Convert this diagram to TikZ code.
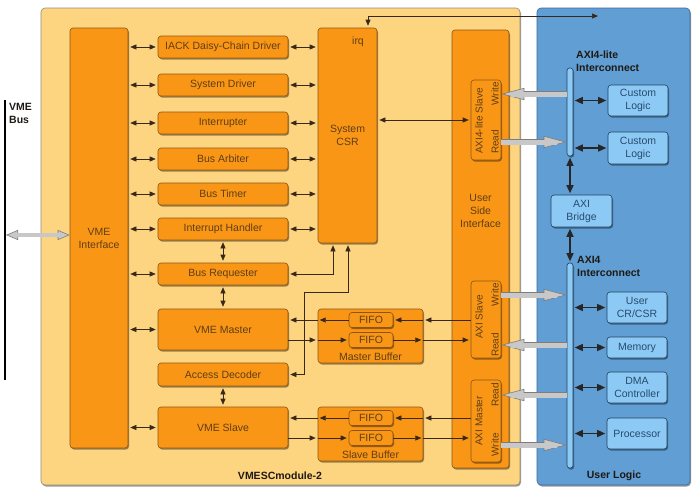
\documentclass[tikz,border=0pt]{standalone}
\usepackage{fontspec}
\setmainfont{Liberation Sans}
\usetikzlibrary{arrows.meta,shadows,calc}
\definecolor{obg}{RGB}{253,212,128}
\definecolor{oborder}{RGB}{150,140,120}
\definecolor{oboxf}{RGB}{249,150,22}
\definecolor{oboxd}{RGB}{140,85,20}
\definecolor{otext}{RGB}{95,62,20}
\definecolor{bbg}{RGB}{96,158,212}
\definecolor{bborder}{RGB}{60,105,150}
\definecolor{bboxf}{RGB}{140,202,245}
\definecolor{bboxd}{RGB}{35,65,95}
\definecolor{btext}{RGB}{40,75,110}
\definecolor{lnc}{RGB}{55,40,25}
\definecolor{garr}{RGB}{200,200,200}
\definecolor{garrd}{RGB}{125,125,125}
\definecolor{lblc}{RGB}{30,25,20}
\begin{document}
\begin{tikzpicture}[x=1pt,y=-1pt,
  font=\fontsize{10.5}{13}\selectfont,
  shad/.style={drop shadow={shadow xshift=1pt,shadow yshift=-1.5pt,opacity=0.4,fill=black}},
  ctr/.style={draw=#1, line width=0.6pt, rounded corners=4pt, inner sep=0pt, shad},
  ob/.style={draw=oboxd, fill=oboxf, line width=0.6pt, rounded corners=3pt, inner sep=0pt, text=otext, align=center, shad},
  bb/.style={draw=bboxd, fill=bboxf, line width=0.6pt, rounded corners=3pt, inner sep=0pt, text=btext, align=center, shad},
  txt/.style={inner sep=0pt, align=center, text=otext},
  rtxt/.style={inner sep=0pt, text=otext, rotate=90, font=\fontsize{10}{12}\selectfont},
  lbl/.style={inner sep=0pt, font=\fontsize{10.5}{13}\selectfont\bfseries, text=lblc},
  sa/.style={draw=lnc, line width=0.6pt, {Triangle[length=6pt,width=5pt]}-{Triangle[length=6pt,width=5pt]}, shorten <=2pt, shorten >=2pt},
  ra/.style={draw=lnc, line width=0.6pt, -{Triangle[length=6pt,width=5pt]}, shorten >=2pt},
  ba/.style={draw=black!85, line width=1.3pt, {Triangle[length=8pt,width=7pt]}-{Triangle[length=8pt,width=7pt]}, shorten <=1.5pt, shorten >=1.5pt},
  bigarr/.style={line width=5pt, draw=garr, -{Triangle[length=23pt,width=12pt,fill=garr,color=garrd,line width=0.6pt]},
     preaction={draw=garrd, line width=6.4pt, -, shorten >=21pt},
     postaction={draw=garr, line width=5pt, -, shorten >=10pt}},
  bigdbl/.style={line width=3.5pt, draw=garr, {Triangle[length=12pt,width=10pt,fill=garr,color=garrd,line width=0.6pt]}-{Triangle[length=12pt,width=10pt,fill=garr,color=garrd,line width=0.6pt]},
     preaction={draw=garrd, line width=4.8pt, -, shorten >=11pt, shorten <=11pt},
     postaction={draw=garr, line width=3.5pt, -, shorten >=6pt, shorten <=6pt}}
]
\useasboundingbox (0,0) rectangle (700,499);
% containers
\node[ctr=oborder, fill=obg, minimum width=479, minimum height=477] (vmesc) at (280.5,246.5) {};
\node[ctr=bborder, fill=bbg, minimum width=153, minimum height=477] (ulogic) at (613.5,246.5) {};
\node[lbl] (vmesclbl) at (280,476) {VMESCmodule-2};
\node[lbl] (ullbl) at (614,476) {User Logic};
\node[lbl, anchor=north west, align=left] (vmebuslbl) at (9,103) {VME\\Bus};
% VME bus
\coordinate (bustop) at (5,100);
\coordinate (busbot) at (5,380);
\draw[line width=1.6pt] (bustop) -- (busbot);
\coordinate (bus) at (6,235);
% left column
\node[ob, minimum width=58, minimum height=420] (vmeif) at (99,238) {VME\\Interface};
\foreach \n/\t/\y in {iack/IACK Daisy-Chain Driver/47, sysdrv/System Driver/85, intr/Interrupter/123, arb/Bus Arbiter/159, tmr/Bus Timer/194, inth/Interrupt Handler/229}{
  \node[ob, minimum width=130, minimum height=22] (\n) at (223,\y) {\t};
}
\node[ob, minimum width=130, minimum height=22] (busreq) at (223,274) {Bus Requester};
\node[ob, minimum width=130, minimum height=41] (vmem) at (223,329.5) {VME Master};
\node[ob, minimum width=130, minimum height=23] (accdec) at (223,374.5) {Access Decoder};
\node[ob, minimum width=130, minimum height=41] (vmes) at (223,427.5) {VME Slave};
\node[ob, minimum width=59, minimum height=215] (csr) at (347.5,135.5) {System\\CSR};
\node[txt] (irq) at (358,42) {irq};
% buffers
\node[ob, minimum width=105, minimum height=54] (mb) at (370.5,336) {};
\node[txt] (mblbl) at (370.5,356.5) {Master Buffer};
\node[ob, minimum width=44, minimum height=15] (mf1) at (371,320) {FIFO};
\node[ob, minimum width=44, minimum height=15] (mf2) at (371,340) {FIFO};
\node[ob, minimum width=105, minimum height=54] (sb) at (370.5,434) {};
\node[txt] (sblbl) at (370.5,454.5) {Slave Buffer};
\node[ob, minimum width=44, minimum height=15] (sf1) at (371,418) {FIFO};
\node[ob, minimum width=44, minimum height=15] (sf2) at (371,438) {FIFO};
% user side interface
\node[ob, minimum width=57, minimum height=438] (usi) at (480.5,249) {};
\node[txt] (usilbl) at (480.5,211) {User\\Side\\Interface};
\node[ob, minimum width=30, minimum height=80] (als) at (486,120) {};
\node[rtxt] (alst) at (479,121) {AXI4-lite Slave};
\node[rtxt] (alsw) at (495,94) {Write};
\node[rtxt] (alsr) at (495,142) {Read};
\node[ob, minimum width=30, minimum height=77] (axs) at (486,319.5) {};
\node[rtxt] (axst) at (479,317) {AXI Slave};
\node[rtxt] (axsw) at (495,295) {Write};
\node[rtxt] (axsr) at (495,345) {Read};
\node[ob, minimum width=30, minimum height=82] (axm) at (486,421) {};
\node[rtxt] (axmt) at (479,421) {AXI Master};
\node[rtxt] (axmr) at (495,395) {Read};
\node[rtxt] (axmw) at (495,445) {Write};
% blue side
\node[bb, minimum width=6, minimum height=88, rounded corners=2.5pt] (lbar) at (570,112) {};
\node[lbl, anchor=north west, align=left] (lbarlbl) at (576,51) {AXI4-lite\\Interconnect};
\node[bb, minimum width=60, minimum height=31] (cl1) at (638,100.5) {Custom\\Logic};
\node[bb, minimum width=60, minimum height=32] (cl2) at (638,148) {Custom\\Logic};
\node[bb, minimum width=61, minimum height=32] (bridge) at (581.5,211) {AXI\\Bridge};
\node[bb, minimum width=6, minimum height=205, rounded corners=2.5pt] (bar4) at (570,365.5) {};
\node[lbl, anchor=north west, align=left] (bar4lbl) at (577,256) {AXI4\\Interconnect};
\node[bb, minimum width=60, minimum height=31] (ucsr) at (637,307.5) {User\\CR/CSR};
\node[bb, minimum width=60, minimum height=21] (mem) at (637,347.5) {Memory};
\node[bb, minimum width=60, minimum height=31] (dma) at (637,387.5) {DMA\\Controller};
\node[bb, minimum width=60, minimum height=31] (proc) at (637,433.5) {Processor};
% connectors: left
\draw[bigdbl] (bus) -- (vmeif.west |- bus);
\foreach \n in {iack,sysdrv,intr,arb,tmr,inth}{
  \draw[sa] (vmeif.east |- \n) -- (\n.west);
  \draw[sa] (\n.east) -- (csr.west |- \n);
}
\draw[sa] (vmeif.east |- busreq) -- (busreq.west);
\draw[sa] (vmeif.east |- vmem) -- (vmem.west);
\draw[sa] (vmeif.east |- vmes) -- (vmes.west);
\draw[sa] (inth.south) -- (busreq.north);
\draw[sa] (busreq.south) -- (vmem.north);
\draw[sa] (accdec.south) -- (vmes.north);
\draw[sa] (busreq.east) -| ($(csr.south)+(-14.5,0)$);
\draw[sa] (accdec.east) -| (304,292) -| ($(csr.south)+(0.5,0)$);
\coordinate (irqend) at (600,16);
\draw[sa] ($(csr.north)+(20.5,0)$) |- (irqend);
\draw[sa] (csr.east |- als) -- (als.west);
% master buffer rows
\draw[ra] (axs.west |- mf1) -- (mb.east |- mf1);
\draw[ra] (mb.east |- mf1) -- (mf1.east);
\draw[ra] (mf1.west) -- (mb.west |- mf1);
\draw[ra] (mb.west |- mf1) -- (vmem.east |- mf1);
\draw[ra] (vmem.east |- mf2) -- (mb.west |- mf2);
\draw[ra] (mb.west |- mf2) -- (mf2.west);
\draw[ra] (mf2.east) -- (mb.east |- mf2);
\draw[ra] (mb.east |- mf2) -- (axs.west |- mf2);
% slave buffer rows
\draw[ra] (axm.west |- sf1) -- (sb.east |- sf1);
\draw[ra] (sb.east |- sf1) -- (sf1.east);
\draw[ra] (sf1.west) -- (sb.west |- sf1);
\draw[ra] (sb.west |- sf1) -- (vmes.east |- sf1);
\draw[ra] (vmes.east |- sf2) -- (sb.west |- sf2);
\draw[ra] (sb.west |- sf2) -- (sf2.west);
\draw[ra] (sf2.east) -- (sb.east |- sf2);
\draw[ra] (sb.east |- sf2) -- (axm.west |- sf2);
% gray bus arrows
\draw[bigarr] (lbar.west |- alsw) -- (als.east |- alsw);
\draw[bigarr] (als.east |- alsr) -- (lbar.west |- alsr);
\draw[bigarr] (axs.east |- axsw) -- (bar4.west |- axsw);
\draw[bigarr] (bar4.west |- axsr) -- (axs.east |- axsr);
\draw[bigarr] (bar4.west |- axmr) -- (axm.east |- axmr);
\draw[bigarr] (axm.east |- axmw) -- (bar4.west |- axmw);
% blue connectors
\draw[ba] (lbar.east |- cl1) -- (cl1.west);
\draw[ba] (lbar.east |- cl2) -- (cl2.west);
\draw[ba] (lbar.south) -- (lbar.south |- bridge.north);
\draw[ba] (bar4.north |- bridge.south) -- (bar4.north);
\draw[ba] (bar4.east |- ucsr) -- (ucsr.west);
\draw[ba] (bar4.east |- mem) -- (mem.west);
\draw[ba] (bar4.east |- dma) -- (dma.west);
\draw[ba] (bar4.east |- proc) -- (proc.west);
\end{tikzpicture}
\end{document}
